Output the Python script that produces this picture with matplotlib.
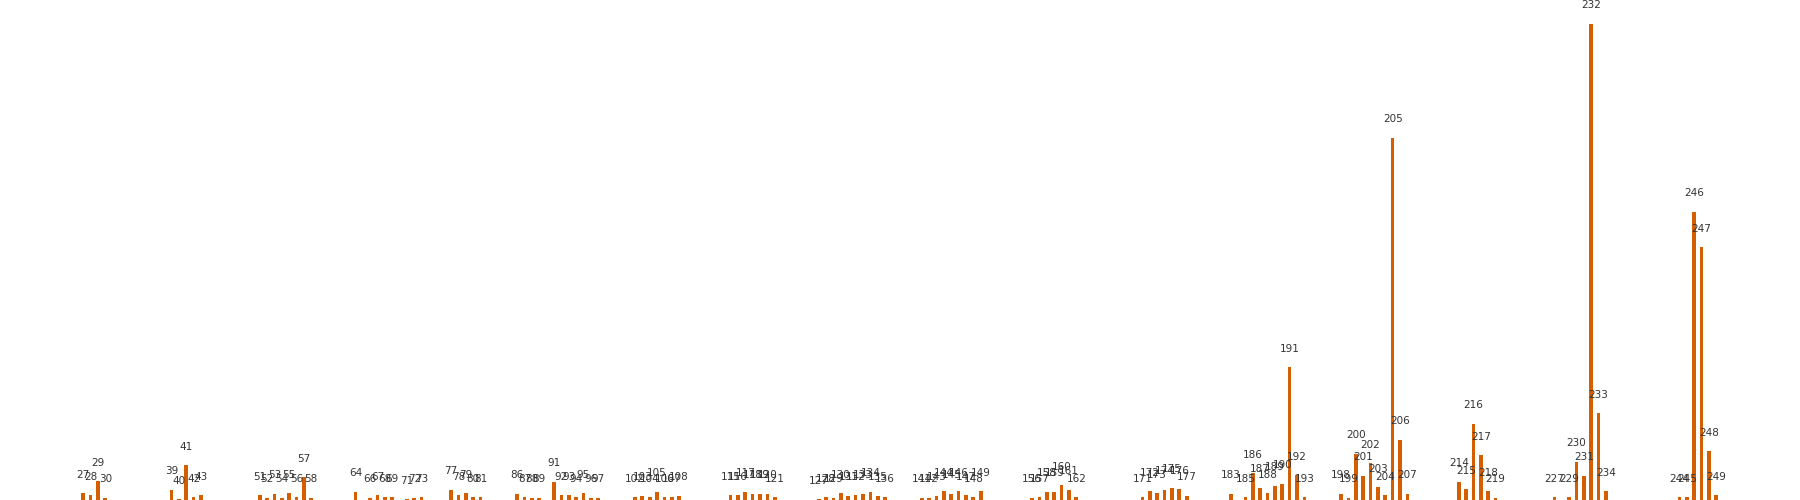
import matplotlib
matplotlib.use("Agg")
import matplotlib.pyplot as plt

categories = [27, 28, 29, 30,
              39, 40, 41, 42, 43,
              51, 52, 53, 54, 55, 56, 57, 58,
              64, 66, 67, 68, 69, 71, 72, 73,
              77, 78, 79, 80, 81,
              86, 87, 88, 89, 91, 92, 93, 94, 95, 96, 97,
              102, 103, 104, 105, 106, 107, 108,
              115, 116, 117, 118, 119, 120, 121,
              127, 128, 129, 130, 131, 132, 133, 134, 135, 136,
              141, 142, 143, 144, 145, 146, 147, 148, 149,
              156, 157, 158, 159, 160, 161, 162,
              171, 172, 173, 174, 175, 176, 177,
              183, 185, 186, 187, 188, 189, 190, 191, 192, 193,
              198, 199, 200, 201, 202, 203, 204, 205, 206, 207,
              214, 215, 216, 217, 218, 219,
              227, 229, 230, 231, 232, 233, 234,
              244, 245, 246, 247, 248, 249]

values = [7, 5, 19, 2,
          10, 1, 35, 3, 5,
          5, 2, 6, 2, 7, 3, 23, 2,
          8, 2, 5, 3, 3, 1, 2, 3,
          10, 5, 7, 3, 3,
          6, 3, 2, 2, 18, 5, 5, 3, 7, 2, 2,
          3, 4, 3, 8, 3, 3, 4,
          5, 5, 8, 6, 6, 6, 3,
          1, 3, 2, 7, 4, 5, 6, 8, 4, 3,
          2, 2, 4, 9, 6, 9, 5, 3, 9,
          2, 3, 8, 8, 15, 10, 3,
          3, 9, 7, 10, 12, 11, 4,
          6, 3, 27, 12, 7, 14, 16, 133, 25, 3,
          6, 2, 46, 24, 37, 13, 5, 362, 60, 6,
          18, 11, 76, 45, 9, 2,
          3, 3, 38, 24, 476, 87, 9,
          3, 3, 288, 253, 49, 5]

labels = [str(c) for c in categories]

fig = plt.figure(figsize=(18, 5), dpi=100)
ax = fig.add_axes([0, 0, 1, 1])
ax.bar(categories, values, width=0.5, color="#d55e00")
for x, v, lab in zip(categories, values, labels):
    ax.annotate(lab, (x, v), xytext=(0, 15.5), textcoords="offset pixels",
                ha="center", va="baseline", fontsize=7.5, color="#333333",
                family="DejaVu Sans")
ax.set_xlim(15.68, 260.38)
ax.set_ylim(0, 500)
ax.axis("off")
fig.savefig("out.png", dpi=100)
